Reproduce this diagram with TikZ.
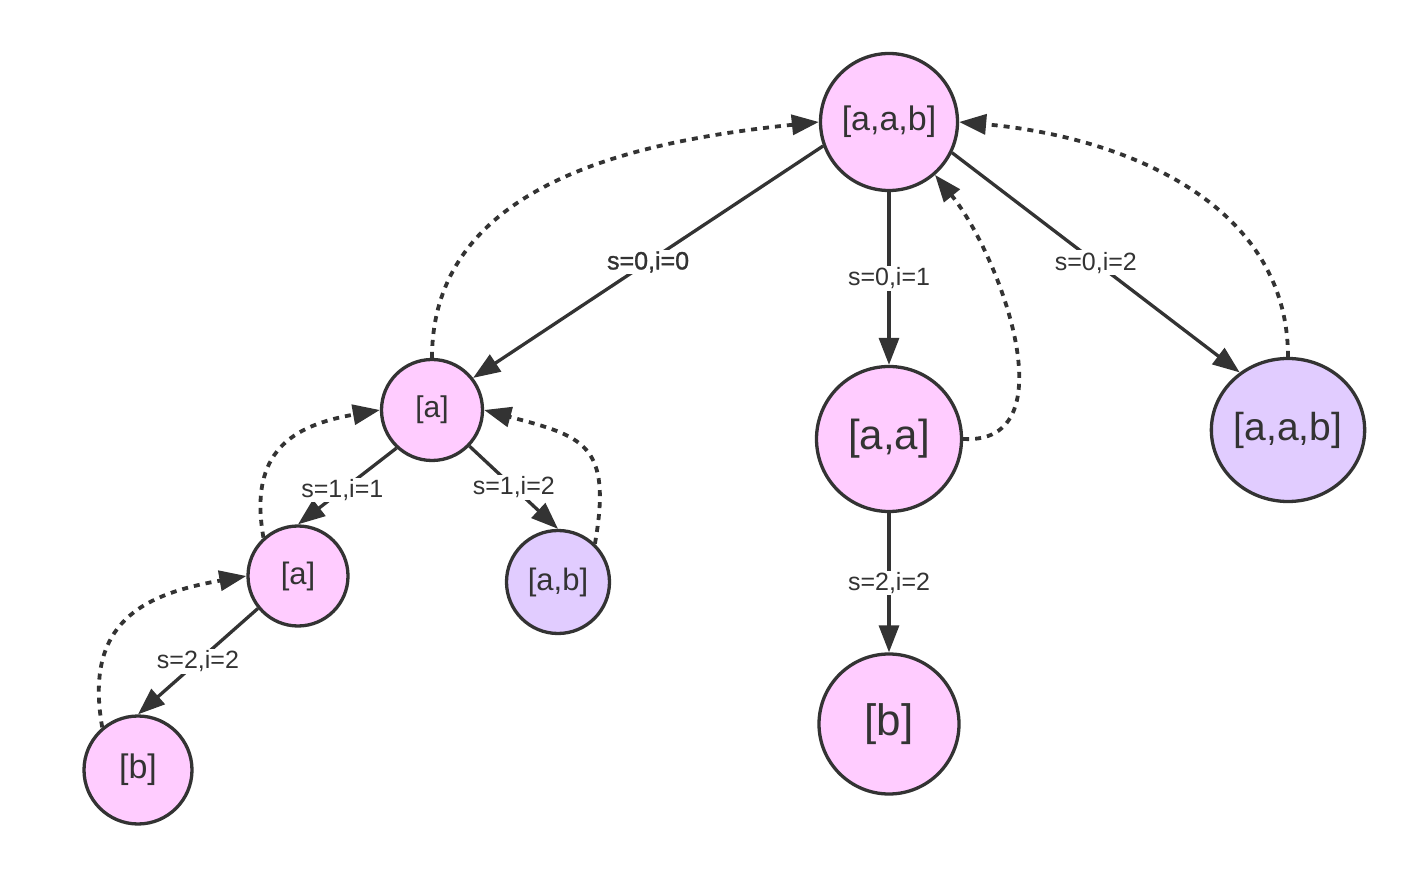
\documentclass[tikz,border=0pt]{standalone}
\usepackage{fontspec}
\setmainfont{Liberation Sans}
\newfontfamily\medfont[FakeBold=1.2]{Liberation Sans}
\usetikzlibrary{arrows.meta,shapes.geometric}
\definecolor{pinkfill}{HTML}{FFCCFF}
\definecolor{purplefill}{HTML}{E1CCFF}
\definecolor{ink}{HTML}{333333}
\tikzset{
  statenode/.style={circle,draw=ink,line width=3.3pt,fill=pinkfill,text=ink,inner sep=0pt},
  purplenode/.style={statenode,fill=purplefill},
  tree/.style={draw=ink,line width=3.3pt,-{Triangle[length=27pt,width=20pt]},color=ink},
  back/.style={draw=ink,line width=3.8pt,dash pattern=on 6pt off 6pt,-{Triangle[length=27pt,width=20pt]},color=ink},
  lbl/.style={fill=white,text=ink,inner sep=1.5pt,font=\fontsize{25}{28}\selectfont}
}
\begin{document}
\begin{tikzpicture}[x=1pt,y=1pt]
\useasboundingbox (0,0) rectangle (1413,876);
% nodes
\node[statenode,minimum size=137pt,font=\fontsize{34}{38}\selectfont] (root) at (889,754) {[a,a,b]};
\node[statenode,minimum size=101pt,font=\fontsize{30}{33}\selectfont] (a1) at (432,466) {[a]};
\node[statenode,minimum size=145pt,font=\fontsize{42}{46}\selectfont] (aa) at (889,437) {[a,a]};
\node[purplenode,ellipse,minimum width=150pt,minimum height=143pt,font=\fontsize{39}{42}\selectfont] (pp) at (1288,446) {[a,a,b]};
\node[statenode,minimum size=100pt,font=\fontsize{31}{34}\selectfont] (a2) at (298,300) {[a]};
\node[purplenode,minimum size=103pt,font=\fontsize{31}{34}\selectfont] (ab) at (558,294) {[a,b]};
\node[statenode,minimum size=108pt,font=\fontsize{34}{37}\selectfont] (bl) at (138,106) {[b]};
\node[statenode,minimum size=140pt,font=\fontsize{44}{48}\selectfont] (bb) at (889,152) {[b]};
% tree edges
\draw[tree] (root.200) -- node[lbl]{\medfont s=0,i=0} (a1.38);
\draw[tree] (root.south) -- node[lbl]{s=0,i=1} (aa.north);
\draw[tree] (root.-26) -- node[lbl]{s=0,i=2} (pp.130);
\draw[tree] (a1.227) -- node[lbl,pos=0.55]{s=1,i=1} (a2.90);
\draw[tree] (a1.-44) -- node[lbl]{s=1,i=2} (ab.90);
\draw[tree] (a2.219) -- node[lbl]{s=2,i=2} (bl.90);
\draw[tree] (aa.south) -- node[lbl]{s=2,i=2} (bb.north);
% back edges
\draw[back] (a1.90) to[out=90,in=186] (root.180);
\draw[back] (pp.90) to[out=90,in=-5] (root.0);
\draw[back] (aa.0) .. controls (1070,431) and (1000,621) .. (root.-49);
\draw[back] (ab.46) to[out=80,in=-15,looseness=1.5] (a1.0);
\draw[back] (a2.132) to[out=100,in=190,looseness=1.3] (a1.180);
\draw[back] (bl.130) to[out=100,in=190,looseness=1.3] (a2.180);
\end{tikzpicture}
\end{document}
